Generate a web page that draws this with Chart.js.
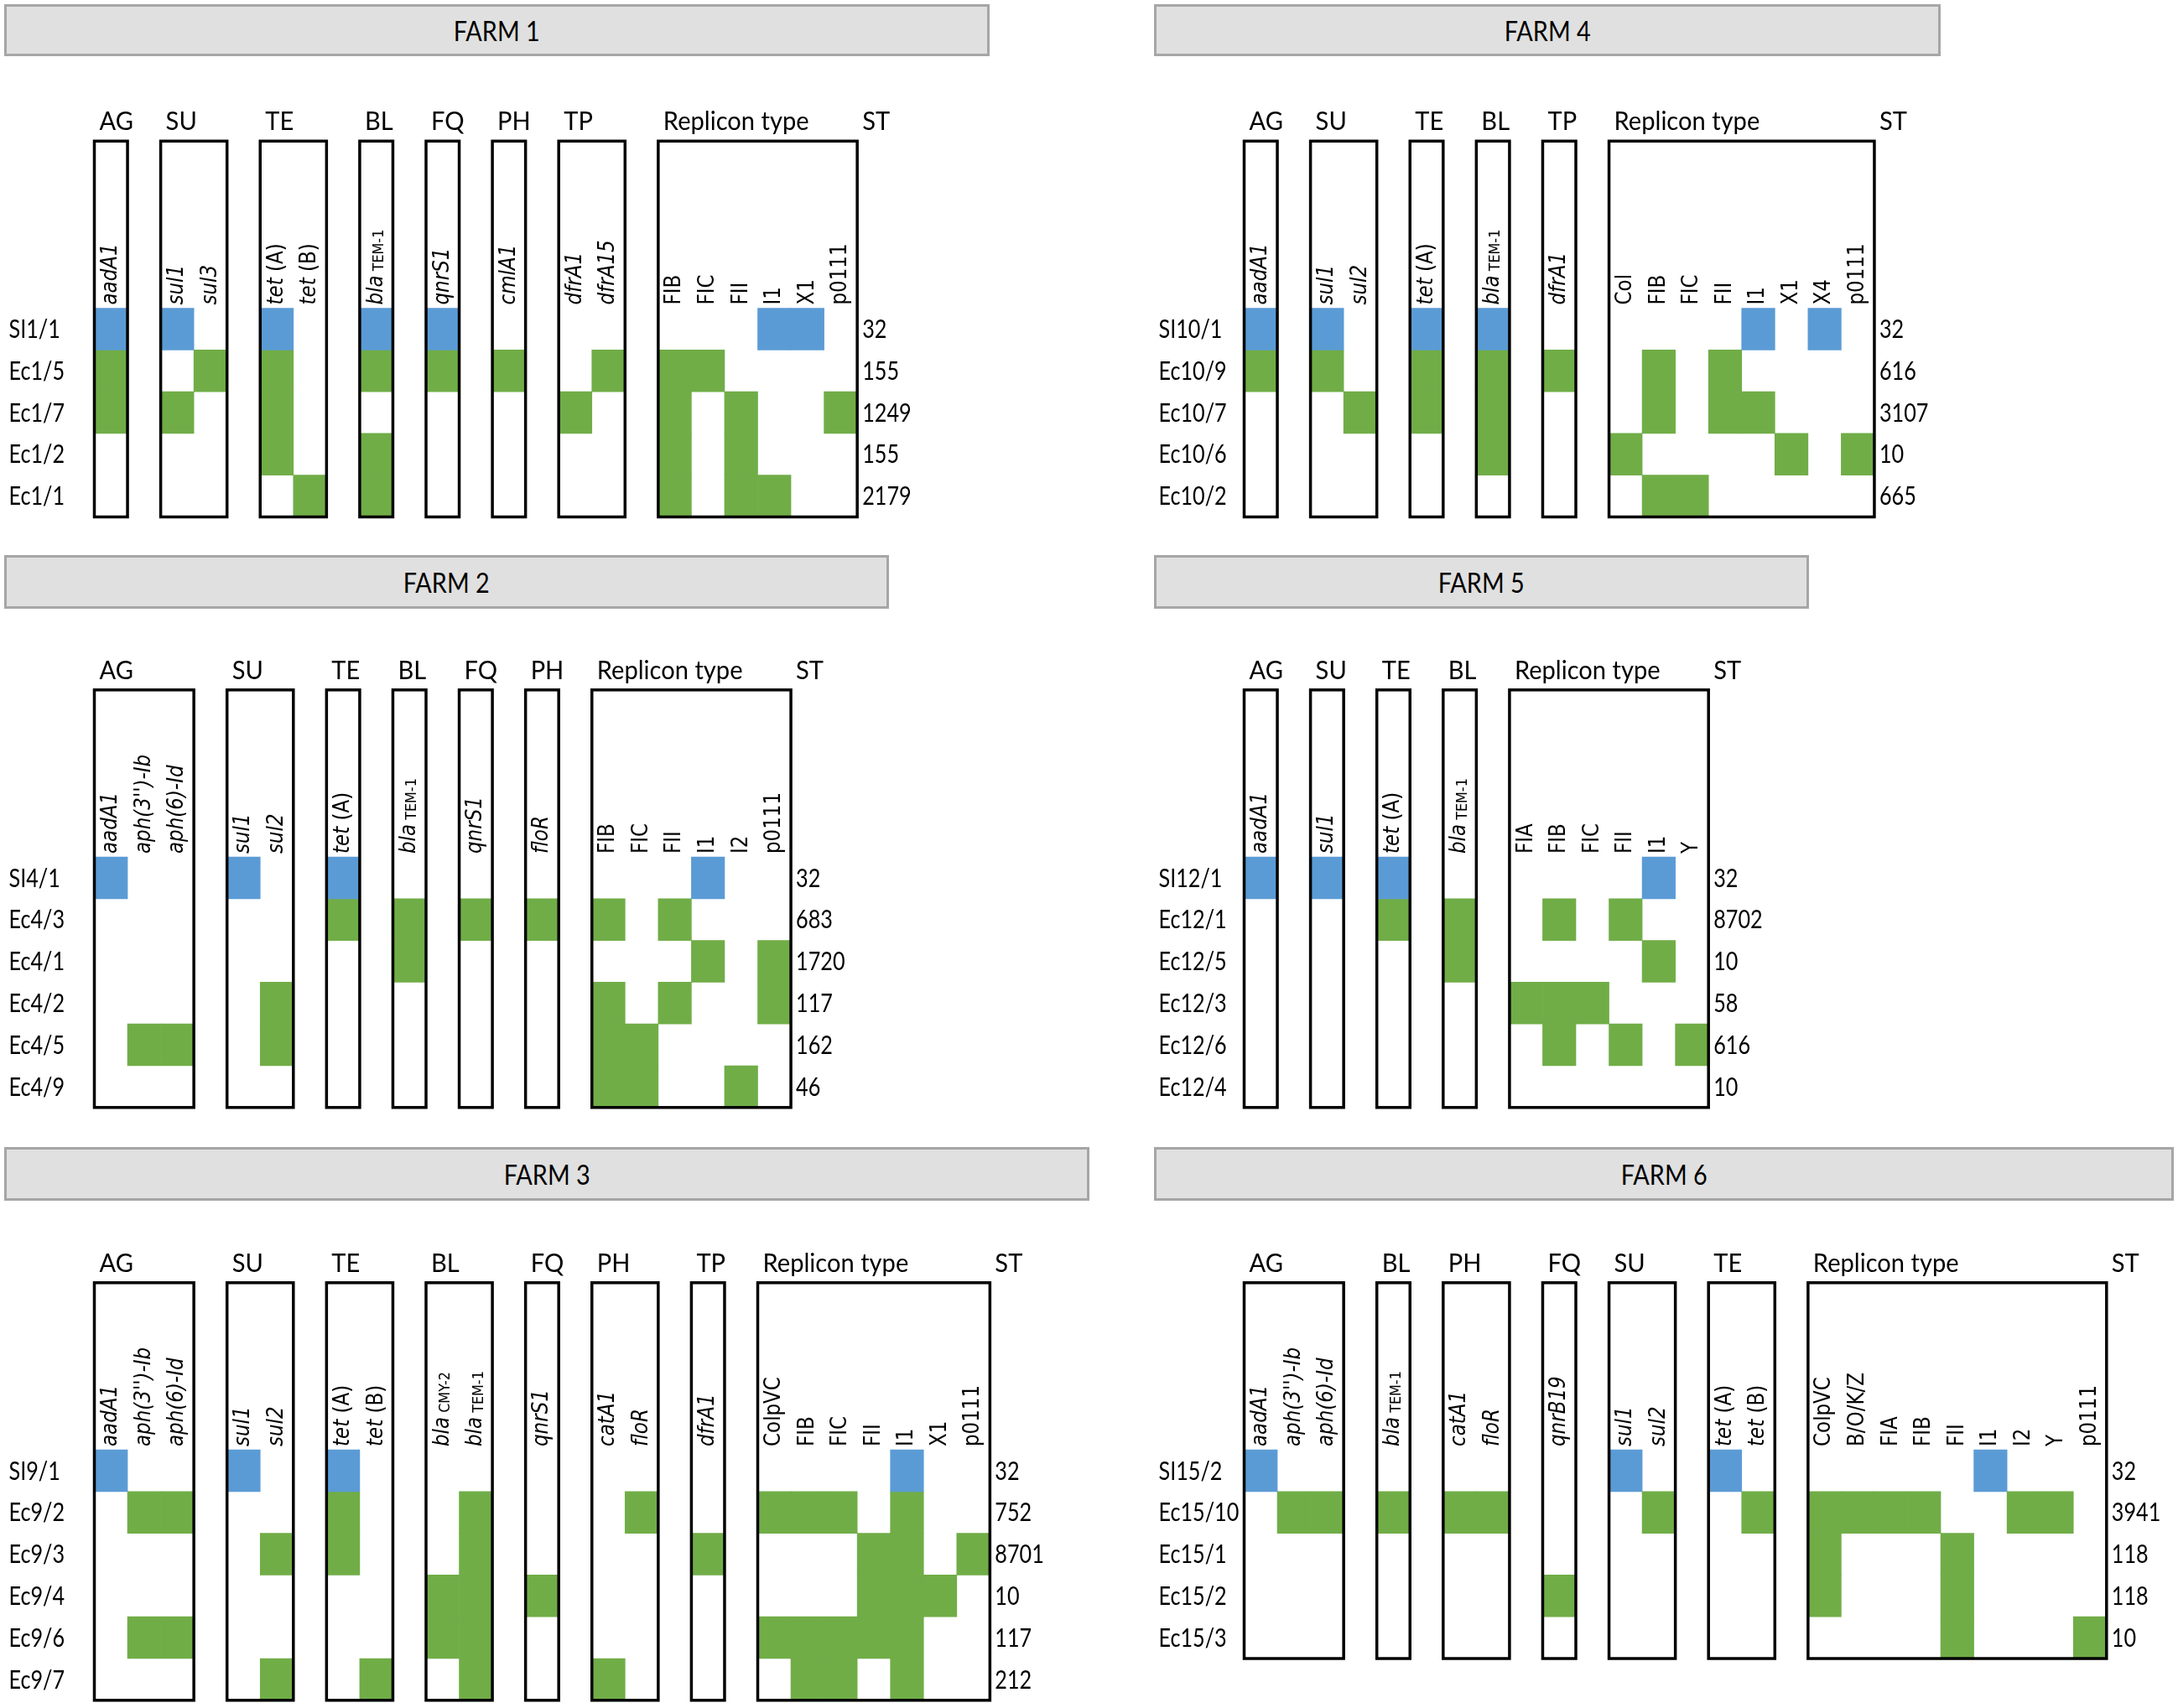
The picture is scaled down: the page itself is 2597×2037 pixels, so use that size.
<!DOCTYPE html>
<html>
<head>
<meta charset="utf-8">
<script src="https://cdn.jsdelivr.net/npm/chart.js@4.4.3/dist/chart.umd.min.js"></script>
<style>
  html, body { margin: 0; padding: 0; background: #fff; }
  body { width: 2597px; height: 2037px; position: relative; overflow: hidden; font-family: Lato, sans-serif; }
  .banner { position: absolute; box-sizing: border-box; background: #e0e0e0; border: 3px solid #a6a6a6;
            display: flex; align-items: center; justify-content: center; font-size: 32px; color: #000; }
  .banner span { display: inline-block; transform: scaleX(0.9); }
  canvas { position: absolute; }
</style>
</head>
<body>
<script>
// Farm 1
const farm1Classes = ['AG', 'SU', 'TE', 'BL', 'FQ', 'PH', 'TP'];
const farm1Genes = [['aadA1'], ['sul1', 'sul3'], ['tet(A)', 'tet(B)'], ['blaTEM-1'], ['qnrS1'], ['cmlA1'], ['dfrA1', 'dfrA15']];
const farm1Replicons = ['FIB', 'FIC', 'FII', 'I1', 'X1', 'p0111'];
const farm1Isolates = ['SI1/1', 'Ec1/5', 'Ec1/7', 'Ec1/2', 'Ec1/1'];
const farm1ST = [32, 155, 1249, 155, 2179];
const farm1Hits = [
  ['aadA1', 'sul1', 'tet(A)', 'blaTEM-1', 'qnrS1', 'I1', 'X1'],
  ['aadA1', 'sul3', 'tet(A)', 'blaTEM-1', 'qnrS1', 'cmlA1', 'dfrA15', 'FIB', 'FIC'],
  ['aadA1', 'sul1', 'tet(A)', 'dfrA1', 'FIB', 'FII', 'p0111'],
  ['tet(A)', 'blaTEM-1', 'FIB', 'FII'],
  ['tet(B)', 'blaTEM-1', 'FIB', 'FII', 'I1']
];

// Farm 2
const farm2Classes = ['AG', 'SU', 'TE', 'BL', 'FQ', 'PH'];
const farm2Genes = [['aadA1', "aph(3'')-Ib", 'aph(6)-Id'], ['sul1', 'sul2'], ['tet(A)'], ['blaTEM-1'], ['qnrS1'], ['floR']];
const farm2Replicons = ['FIB', 'FIC', 'FII', 'I1', 'I2', 'p0111'];
const farm2Isolates = ['SI4/1', 'Ec4/3', 'Ec4/1', 'Ec4/2', 'Ec4/5', 'Ec4/9'];
const farm2ST = [32, 683, 1720, 117, 162, 46];
const farm2Hits = [
  ['aadA1', 'sul1', 'tet(A)', 'I1'],
  ['tet(A)', 'blaTEM-1', 'qnrS1', 'floR', 'FIB', 'FII'],
  ['blaTEM-1', 'I1', 'p0111'],
  ['sul2', 'FIB', 'FII', 'p0111'],
  ["aph(3'')-Ib", 'aph(6)-Id', 'sul2', 'FIB', 'FIC'],
  ['FIB', 'FIC', 'I2']
];

// Farm 3
const farm3Classes = ['AG', 'SU', 'TE', 'BL', 'FQ', 'PH', 'TP'];
const farm3Genes = [['aadA1', "aph(3'')-Ib", 'aph(6)-Id'], ['sul1', 'sul2'], ['tet(A)', 'tet(B)'], ['blaCMY-2', 'blaTEM-1'], ['qnrS1'], ['catA1', 'floR'], ['dfrA1']];
const farm3Replicons = ['ColpVC', 'FIB', 'FIC', 'FII', 'I1', 'X1', 'p0111'];
const farm3Isolates = ['SI9/1', 'Ec9/2', 'Ec9/3', 'Ec9/4', 'Ec9/6', 'Ec9/7'];
const farm3ST = [32, 752, 8701, 10, 117, 212];
const farm3Hits = [
  ['aadA1', 'sul1', 'tet(A)', 'I1'],
  ["aph(3'')-Ib", 'aph(6)-Id', 'tet(A)', 'blaTEM-1', 'floR', 'ColpVC', 'FIB', 'FIC', 'I1'],
  ['sul2', 'tet(A)', 'blaTEM-1', 'dfrA1', 'FII', 'I1', 'p0111'],
  ['blaCMY-2', 'blaTEM-1', 'qnrS1', 'FII', 'I1', 'X1'],
  ["aph(3'')-Ib", 'aph(6)-Id', 'blaCMY-2', 'blaTEM-1', 'ColpVC', 'FIB', 'FIC', 'FII', 'I1'],
  ['sul2', 'tet(B)', 'blaTEM-1', 'catA1', 'FIB', 'FIC', 'I1']
];

// Farm 4
const farm4Classes = ['AG', 'SU', 'TE', 'BL', 'TP'];
const farm4Genes = [['aadA1'], ['sul1', 'sul2'], ['tet(A)'], ['blaTEM-1'], ['dfrA1']];
const farm4Replicons = ['Col', 'FIB', 'FIC', 'FII', 'I1', 'X1', 'X4', 'p0111'];
const farm4Isolates = ['SI10/1', 'Ec10/9', 'Ec10/7', 'Ec10/6', 'Ec10/2'];
const farm4ST = [32, 616, 3107, 10, 665];
const farm4Hits = [
  ['aadA1', 'sul1', 'tet(A)', 'blaTEM-1', 'I1', 'X4'],
  ['aadA1', 'sul1', 'tet(A)', 'blaTEM-1', 'dfrA1', 'FIB', 'FII'],
  ['sul2', 'tet(A)', 'blaTEM-1', 'FIB', 'FII', 'I1'],
  ['blaTEM-1', 'Col', 'X1', 'p0111'],
  ['FIB', 'FIC']
];

// Farm 5
const farm5Classes = ['AG', 'SU', 'TE', 'BL'];
const farm5Genes = [['aadA1'], ['sul1'], ['tet(A)'], ['blaTEM-1']];
const farm5Replicons = ['FIA', 'FIB', 'FIC', 'FII', 'I1', 'Y'];
const farm5Isolates = ['SI12/1', 'Ec12/1', 'Ec12/5', 'Ec12/3', 'Ec12/6', 'Ec12/4'];
const farm5ST = [32, 8702, 10, 58, 616, 10];
const farm5Hits = [
  ['aadA1', 'sul1', 'tet(A)', 'I1'],
  ['tet(A)', 'blaTEM-1', 'FIB', 'FII'],
  ['blaTEM-1', 'I1'],
  ['FIA', 'FIB', 'FIC'],
  ['FIB', 'FII', 'Y'],
  []
];

// Farm 6
const farm6Classes = ['AG', 'BL', 'PH', 'FQ', 'SU', 'TE'];
const farm6Genes = [['aadA1', "aph(3'')-Ib", 'aph(6)-Id'], ['blaTEM-1'], ['catA1', 'floR'], ['qnrB19'], ['sul1', 'sul2'], ['tet(A)', 'tet(B)']];
const farm6Replicons = ['ColpVC', 'B/O/K/Z', 'FIA', 'FIB', 'FII', 'I1', 'I2', 'Y', 'p0111'];
const farm6Isolates = ['SI15/2', 'Ec15/10', 'Ec15/1', 'Ec15/2', 'Ec15/3'];
const farm6ST = [32, 3941, 118, 118, 10];
const farm6Hits = [
  ['aadA1', 'sul1', 'tet(A)', 'I1'],
  ["aph(3'')-Ib", 'aph(6)-Id', 'blaTEM-1', 'catA1', 'floR', 'sul2', 'tet(B)', 'ColpVC', 'B/O/K/Z', 'FIA', 'FIB', 'I2', 'Y'],
  ['ColpVC', 'FII'],
  ['qnrB19', 'ColpVC', 'FII'],
  ['FII', 'p0111']
];

const BLUE = '#5b9bd5', GREEN = '#70ad47';
const CELL_W = 39.55, CELL_H = 49.8, HEAD_ROWS = 4;
const HEAD_FONT = '30px Lato', ROW_FONT = '30px Lato', ROW_SX = 0.84;
const GENE_FONT = '23px "DejaVu Sans"', GENE_ITAL = 'italic 23px "DejaVu Sans"', SUB_FONT = '16px "DejaVu Sans"';
const GENE_THICK = 1.15;

// page layout of each panel: banner box, canvas box, left edge of first column, top of first row
const panels = [
  { title: 'FARM 1', classes: farm1Classes, genes: farm1Genes, replicons: farm1Replicons, isolates: farm1Isolates, st: farm1ST, hits: farm1Hits,
    banner: [5, 5, 1175, 62], canvas: [0, 70, 1370, 580], gx: 112.5, cy: 367.5 },
  { title: 'FARM 4', classes: farm4Classes, genes: farm4Genes, replicons: farm4Replicons, isolates: farm4Isolates, st: farm4ST, hits: farm4Hits,
    banner: [1376, 5, 938, 62], canvas: [1370, 70, 1227, 580], gx: 1483.5, cy: 367.5 },
  { title: 'FARM 2', classes: farm2Classes, genes: farm2Genes, replicons: farm2Replicons, isolates: farm2Isolates, st: farm2ST, hits: farm2Hits,
    banner: [5, 662, 1055, 64], canvas: [0, 730, 1370, 620], gx: 112.5, cy: 1022 },
  { title: 'FARM 5', classes: farm5Classes, genes: farm5Genes, replicons: farm5Replicons, isolates: farm5Isolates, st: farm5ST, hits: farm5Hits,
    banner: [1376, 662, 781, 64], canvas: [1370, 730, 1227, 620], gx: 1483.5, cy: 1022 },
  { title: 'FARM 3', classes: farm3Classes, genes: farm3Genes, replicons: farm3Replicons, isolates: farm3Isolates, st: farm3ST, hits: farm3Hits,
    banner: [5, 1368, 1294, 64], canvas: [0, 1435, 1370, 602], gx: 112.5, cy: 1729 },
  { title: 'FARM 6', classes: farm6Classes, genes: farm6Genes, replicons: farm6Replicons, isolates: farm6Isolates, st: farm6ST, hits: farm6Hits,
    banner: [1376, 1368, 1216, 64], canvas: [1370, 1435, 1227, 602], gx: 1483.5, cy: 1729 }
];

// gene columns in boxes, one empty slot between boxes
function buildSlots(genes, replicons) {
  const slots = [], boxes = [];
  [...genes, replicons].forEach((g, i) => {
    if (i > 0) slots.push('');
    boxes.push([slots.length, slots.length + g.length - 1]);
    slots.push(...g);
  });
  return { slots, boxes };
}

function cells(p, ref) {
  const out = [];
  p.hits.forEach((row, r) => {
    if (p.isolates[r].startsWith('SI') !== ref) return;
    row.forEach(g => out.push({ x: g, y: [r, r + 1] }));
  });
  return out;
}

function narrowText(ctx, text, x, y, sx) {
  ctx.save();
  ctx.translate(x, y);
  ctx.scale(sx, 1);
  ctx.fillText(text, 0, 0);
  ctx.restore();
}

function drawGene(ctx, id, cx, y0, plain) {
  let parts;
  if (plain) parts = [[id, GENE_FONT, 0]];
  else if (id.startsWith('bla')) parts = [['bla', GENE_ITAL, 0], [' ' + id.slice(3), SUB_FONT, 3]];
  else if (id.startsWith('tet')) parts = [['tet', GENE_ITAL, 0], [' ' + id.slice(3), GENE_FONT, 0]];
  else parts = [[id, GENE_ITAL, 0]];
  ctx.save();
  ctx.translate(cx, y0);
  ctx.rotate(-Math.PI / 2);
  ctx.scale(1, GENE_THICK);
  ctx.textAlign = 'left';
  ctx.textBaseline = 'middle';
  let pos = 0;
  parts.forEach(([t, font, dy]) => {
    ctx.font = font;
    ctx.fillText(t, pos, dy);
    pos += ctx.measureText(t).width;
  });
  ctx.restore();
}

function labelPlugin(p, layout) {
  return {
    id: 'farmLabels',
    afterDatasetsDraw(chart) {
      const { ctx, chartArea: a, scales: { x, y } } = chart;
      const n = p.isolates.length;
      const top = y.getPixelForValue(-HEAD_ROWS), bot = y.getPixelForValue(n);
      ctx.save();
      ctx.strokeStyle = '#000';
      ctx.lineWidth = 3.5;
      layout.boxes.forEach(([i0, i1]) => {
        const l = x.getPixelForValue(i0 - 0.5), r = x.getPixelForValue(i1 + 0.5);
        ctx.strokeRect(l, top, r - l, bot - top);
      });

      ctx.fillStyle = '#000';
      ctx.font = HEAD_FONT;
      ctx.textAlign = 'left';
      ctx.textBaseline = 'alphabetic';
      const heads = [...p.classes, 'Replicon type'];
      layout.boxes.forEach(([i0], k) => narrowText(ctx, heads[k], x.getPixelForValue(i0 - 0.5) + 6, top - 13, 0.97));
      const stX = x.getPixelForValue(layout.slots.length - 0.5) + 6;
      narrowText(ctx, 'ST', stX, top - 13, 0.97);

      ctx.font = ROW_FONT;
      ctx.textBaseline = 'middle';
      p.isolates.forEach((name, r) => {
        const yc = y.getPixelForValue(r + 0.5) + 1;
        narrowText(ctx, name, a.left - 102, yc, ROW_SX);
        narrowText(ctx, String(p.st[r]), stX, yc, ROW_SX);
      });

      const y0 = y.getPixelForValue(0) - 4;
      layout.slots.forEach((s, i) => {
        if (s) drawGene(ctx, s, x.getPixelForValue(i), y0, p.replicons.includes(s));
      });
      ctx.restore();
    }
  };
}

panels.forEach(p => {
  const [bx, by, bw, bh] = p.banner;
  const banner = document.createElement('div');
  banner.className = 'banner';
  Object.assign(banner.style, { left: bx + 'px', top: by + 'px', width: bw + 'px', height: bh + 'px' });
  const title = document.createElement('span');
  title.textContent = p.title;
  banner.appendChild(title);
  document.body.appendChild(banner);

  const [cx, cyTop, cw, ch] = p.canvas;
  const canvas = document.createElement('canvas');
  canvas.width = cw;
  canvas.height = ch;
  Object.assign(canvas.style, { left: cx + 'px', top: cyTop + 'px', width: cw + 'px', height: ch + 'px' });
  document.body.appendChild(canvas);

  const layout = buildSlots(p.genes, p.replicons);
  const n = p.isolates.length;
  const padLeft = p.gx - cx;
  const padTop = p.cy - HEAD_ROWS * CELL_H - cyTop;
  const padRight = cw - padLeft - layout.slots.length * CELL_W;
  const padBottom = ch - (p.cy + n * CELL_H - cyTop);

  new Chart(canvas, {
    type: 'bar',
    data: {
      labels: layout.slots,
      datasets: [
        { label: 'SI', data: cells(p, true), backgroundColor: BLUE },
        { label: 'Ec', data: cells(p, false), backgroundColor: GREEN }
      ]
    },
    options: {
      responsive: false,
      animation: false,
      devicePixelRatio: 1,
      layout: { padding: { left: padLeft, top: padTop, right: padRight, bottom: padBottom } },
      datasets: { bar: { grouped: false, barPercentage: 1, categoryPercentage: 1, borderWidth: 0 } },
      plugins: { legend: { display: false }, tooltip: { enabled: false } },
      scales: {
        x: { type: 'category', display: false, offset: true },
        y: { type: 'linear', display: false, reverse: true, min: -HEAD_ROWS, max: n }
      }
    },
    plugins: [labelPlugin(p, layout)]
  });
});
</script>
</body>
</html>
